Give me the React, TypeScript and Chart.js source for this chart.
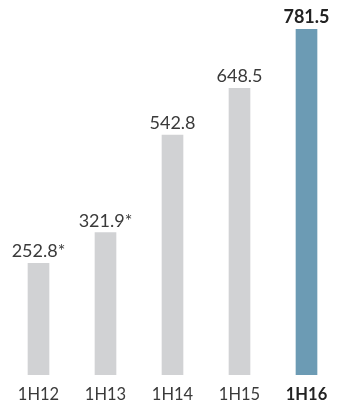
import React, { useEffect, useRef } from "react";
import { Chart, registerables } from "chart.js";

Chart.register(...registerables);

const categories = ["1H12", "1H13", "1H14", "1H15", "1H16"];
const values = [252.8, 321.9, 542.8, 648.5, 781.5];
const valueLabels = ["252.8*", "321.9*", "542.8", "648.5", "781.5"];
const highlight = [false, false, false, false, true];

const GRAY = "#d1d2d4";
const BLUE = "#6c9bb4";
const TEXT = "#3a3a3a";
const TEXT_BOLD = "#222222";
const FONT = "Lato, 'Open Sans', sans-serif";

const labelPlugin = {
  id: "labels",
  afterDatasetsDraw(chart: any) {
    const { ctx, chartArea } = chart;
    const meta = chart.getDatasetMeta(0);
    const xScale = chart.scales.x;
    ctx.save();
    ctx.textAlign = "center";
    ctx.textBaseline = "alphabetic";
    meta.data.forEach((bar: any, i: number) => {
      const bold = highlight[i];
      ctx.font = `${bold ? "bold " : ""}18px ${FONT}`;
      ctx.fillStyle = bold ? TEXT_BOLD : TEXT;
      ctx.fillText(valueLabels[i], bar.x, bar.y - 6);
    });
    categories.forEach((cat, i) => {
      const bold = highlight[i];
      ctx.font = `${bold ? "bold " : ""}16.5px ${FONT}`;
      ctx.fillStyle = bold ? TEXT_BOLD : TEXT;
      ctx.fillText(cat, xScale.getPixelForValue(i), chartArea.bottom + 25);
    });
    ctx.restore();
  },
};

export default function App() {
  const ref = useRef<HTMLCanvasElement | null>(null);
  useEffect(() => {
    if (!ref.current) return;
    const chart = new Chart(ref.current, {
      type: "bar",
      data: {
        labels: categories,
        datasets: [
          {
            data: values,
            backgroundColor: highlight.map((h) => (h ? BLUE : GRAY)),
            barThickness: 21,
            borderWidth: 0,
          },
        ],
      },
      options: {
        animation: false,
        responsive: false,
        layout: { padding: { left: 5, right: 0, top: 0, bottom: 29 } },
        plugins: { legend: { display: false }, tooltip: { enabled: false } },
        scales: {
          x: {
            display: false,
            offset: true,
          },
          y: {
            display: false,
            min: 0,
            max: 848,
          },
        },
      },
      plugins: [labelPlugin],
    });
    return () => chart.destroy();
  }, []);
  return (
    <div
      style={{
        position: "fixed",
        left: 0,
        top: 0,
        width: 338,
        height: 404,
        overflow: "hidden",
        background: "#ffffff",
      }}
    >
      <canvas ref={ref} width={340} height={404} style={{ width: 340, height: 404 }} />
    </div>
  );
}
